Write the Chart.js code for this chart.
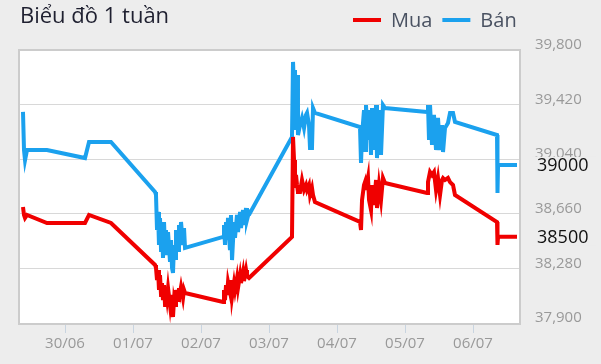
<!DOCTYPE html>
<html>
<head>
<meta charset="utf-8">
<script src="https://cdn.jsdelivr.net/npm/chart.js@4.4.1/dist/chart.umd.min.js"></script>
<style>
  html, body { margin: 0; padding: 0; background: #ededed; }
  #wrap { width: 601px; height: 364px; }
</style>
</head>
<body>
<div id="wrap"><canvas id="weekChart" width="601" height="364"></canvas></div>
<script>
const titleText = "Biểu đồ 1 tuần";
const dayLabels = ["30/06", "01/07", "02/07", "03/07", "04/07", "05/07", "06/07"];
const yTicks = [37900, 38280, 38660, 39040, 39420, 39800];

// time in days counted from 30/06 00:00
const times = [
  -0.618, -0.603, -0.588, -0.559, -0.265, 0.294, 0.353, 0.676, 1.324,
  1.338, 1.353, 1.368, 1.382, 1.397, 1.412, 1.426, 1.441, 1.456, 1.471, 1.485, 1.500, 1.515, 1.544,
  1.559, 1.574, 1.588, 1.603, 1.618, 1.632, 1.662, 1.676, 1.691, 1.706, 1.735, 1.750, 1.765,
  2.324, 2.338, 2.353, 2.368, 2.382, 2.397, 2.426, 2.441, 2.456, 2.485, 2.500, 2.529, 2.544, 2.574,
  2.588, 2.618, 2.632, 2.662, 2.676, 2.706, 2.721,
  3.338, 3.353, 3.368, 3.382, 3.397, 3.412, 3.426, 3.456, 3.485, 3.515, 3.544, 3.559, 3.588, 3.603,
  3.632, 3.647, 3.676,
  4.338, 4.353, 4.368, 4.397, 4.412, 4.426, 4.456, 4.471, 4.500, 4.515, 4.544, 4.574, 4.588, 4.618,
  4.647, 4.676, 4.706,
  5.324, 5.338, 5.353, 5.368, 5.397, 5.426, 5.456, 5.485, 5.515, 5.544, 5.559, 5.588, 5.632, 5.662,
  5.706, 5.735,
  6.353, 6.360, 6.368, 6.647
];

// Mua
const buyValues = [
  38707, 38652, 38631, 38652, 38596, 38596, 38652, 38596, 38304,
  38283, 38199, 38269, 38130, 38234, 38095, 38178, 38060, 38164, 38025, 38130, 38074, 38144, 38025,
  38095, 37990, 37942, 38060, 38025, 38130, 38060, 38144, 38109, 38151, 38074, 38130, 38109,
  38046, 38130, 38060, 38164, 38095, 38185, 38116, 38199, 38081, 38178, 38130, 38213, 38144, 38234,
  38178, 38255, 38192, 38269, 38227, 38213, 38220,
  38499, 39195, 39034, 38840, 38930, 38860, 38812, 38812, 38895, 38826, 38860, 38826, 38860, 38791,
  38840, 38791, 38742,
  38603, 38547, 38756, 38860, 38881, 38826, 38909, 38756, 38686, 38860, 38721, 38895, 38700, 38860,
  38756, 38909, 38874,
  38805, 38881, 38916, 38951, 38930, 38951, 38826, 38909, 38791, 38895, 38909, 38895, 38909, 38881,
  38860, 38791,
  38603, 38443, 38500, 38500
];

// Bán
const sellValues = [
  39369, 39104, 39034, 39104, 39104, 39048, 39160, 39160, 38812,
  38791, 38547, 38673, 38443, 38631, 38408, 38582, 38352, 38603, 38422, 38547, 38373, 38533, 38325,
  38478, 38283, 38248, 38443, 38352, 38547, 38408, 38582, 38478, 38603, 38443, 38561, 38422,
  38499, 38582, 38443, 38603, 38478, 38631, 38408, 38652, 38338, 38603, 38492, 38652, 38533, 38673,
  38561, 38686, 38582, 38700, 38617, 38673, 38666,
  39195, 39717, 39522, 39661, 39243, 39626, 39208, 39278, 39327, 39257, 39348, 39362, 39278, 39118,
  39118, 39396, 39362,
  39264, 39014, 39208, 39382, 39104, 39417, 39174, 39382, 39069, 39396, 39104, 39417, 39048, 39382,
  39069, 39417, 39396,
  39369, 39417, 39174, 39417, 39139, 39348, 39104, 39327, 39104, 39278, 39090, 39257, 39292, 39362,
  39362, 39299,
  39208, 38805, 39000, 39000
];

const fontFamily = '"Open Sans", "Noto Sans", sans-serif';
const pageColor = '#ededed';

function withCommas(v) {
  return String(v).replace(/\B(?=(\d{3})+(?!\d))/g, ',');
}

function toPoints(values) {
  return values.map((v, i) => ({ x: times[i], y: v }));
}

// white plot area, frame, title, legend and last-value labels
const decorPlugin = {
  id: 'decor',
  beforeDraw(chart) {
    const { ctx, chartArea: a } = chart;
    ctx.save();
    ctx.fillStyle = '#ffffff';
    ctx.fillRect(a.left, a.top, a.right - a.left, a.bottom - a.top);
    ctx.restore();
  },
  beforeDatasetsDraw(chart) {
    const { ctx, chartArea: a } = chart;
    ctx.save();
    ctx.strokeStyle = '#cccccc';
    ctx.lineWidth = 2;
    ctx.strokeRect(a.left - 1, a.top, a.right - a.left + 1, a.bottom - a.top + 1);
    ctx.restore();
  },
  afterDraw(chart) {
    const { ctx } = chart;
    const yScale = chart.scales.y;
    ctx.save();

    // title
    ctx.fillStyle = '#1f2030';
    ctx.font = '22px ' + fontFamily;
    ctx.textBaseline = 'alphabetic';
    ctx.textAlign = 'left';
    ctx.fillText(titleText, 20, 23);

    // legend
    let x = 353;
    ctx.font = '20px ' + fontFamily;
    chart.data.datasets.forEach(ds => {
      ctx.strokeStyle = ds.borderColor;
      ctx.lineWidth = 4;
      ctx.beginPath();
      ctx.moveTo(x, 20);
      ctx.lineTo(x + 28, 20);
      ctx.stroke();
      ctx.fillStyle = '#4a5262';
      ctx.fillText(ds.label, x + 38, 27);
      x += 38 + ctx.measureText(ds.label).width + 10;
    });

    // last values on the right
    ctx.font = '18px ' + fontFamily;
    ctx.textBaseline = 'middle';
    chart.data.datasets.forEach(ds => {
      const last = ds.data[ds.data.length - 1].y;
      const y = yScale.getPixelForValue(last);
      ctx.fillStyle = pageColor;
      ctx.fillRect(532, y - 8, 64, 17);
      ctx.fillStyle = '#111111';
      ctx.fillText(String(last), 537, y + 1);
    });

    ctx.restore();
  }
};

const canvas = document.getElementById('weekChart');

new Chart(canvas.getContext('2d'), {
  type: 'line',
  data: {
    datasets: [
      {
        label: 'Mua',
        data: toPoints(buyValues),
        borderColor: '#f00000',
        borderWidth: 4,
        pointRadius: 0,
        tension: 0,
        fill: false
      },
      {
        label: 'Bán',
        data: toPoints(sellValues),
        borderColor: '#1ba1ee',
        borderWidth: 4,
        pointRadius: 0,
        tension: 0,
        fill: false
      }
    ]
  },
  options: {
    responsive: false,
    animation: false,
    layout: { padding: { top: 50, left: 20, right: 0, bottom: 0 } },
    plugins: {
      legend: { display: false },
      tooltip: { enabled: false }
    },
    scales: {
      x: {
        type: 'linear',
        min: -0.662,
        max: 6.691,
        afterBuildTicks: s => { s.ticks = dayLabels.map((_, i) => ({ value: i })); },
        afterFit: s => { s.height = 41; },
        grid: { drawOnChartArea: false, drawTicks: true, tickLength: 10, tickColor: '#c8d4e0' },
        border: { display: false },
        ticks: {
          callback: (v, i) => dayLabels[i],
          color: '#999999',
          font: { family: fontFamily, size: 15 },
          padding: 2,
          maxRotation: 0,
          autoSkip: false
        }
      },
      y: {
        position: 'right',
        min: 37900,
        max: 39800,
        afterBuildTicks: s => { s.ticks = yTicks.map(v => ({ value: v })); },
        afterFit: s => { s.width = 81; },
        grid: { color: '#d8d8d8', drawTicks: false },
        border: { display: false },
        ticks: {
          callback: v => withCommas(v),
          color: '#999999',
          font: { family: fontFamily, size: 15 },
          padding: 15,
          labelOffset: -5
        }
      }
    }
  },
  plugins: [decorPlugin]
});
</script>
</body>
</html>
